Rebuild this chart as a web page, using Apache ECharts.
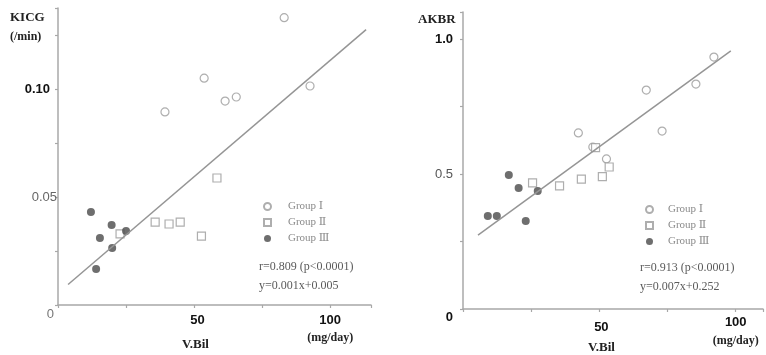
<!DOCTYPE html>
<html>
<head>
<meta charset="utf-8">
<script src="https://cdn.jsdelivr.net/npm/echarts@6/dist/echarts.min.js"></script>
<style>
  html, body { margin: 0; padding: 0; background: #fff; }
  #chart { width: 766px; height: 355px; }
</style>
</head>
<body>
<div id="chart"></div>
<script>
// V.Bil (mg/day) against KICG (/min) — left panel
const kicgGroup1X = [83.1, 53.7, 39.3, 61.4, 65.5, 92.6];
const kicgGroup1Y = [0.133, 0.105, 0.0894, 0.0944, 0.0963, 0.1014];
const kicgGroup2X = [58.4, 35.7, 40.8, 44.9, 52.7, 22.8];
const kicgGroup2Y = [0.0588, 0.0384, 0.0375, 0.0384, 0.0319, 0.0329];
const kicgGroup3X = [12.1, 19.7, 15.4, 25.0, 19.9, 14.0];
const kicgGroup3Y = [0.0431, 0.0370, 0.0310, 0.0343, 0.0264, 0.0167];
const kicgFitX = [3.7, 113.2];
const kicgFitY = [0.0095, 0.1275];

// V.Bil (mg/day) against AKBR — right panel
const akbrGroup1X = [92.0, 85.4, 67.2, 73.0, 42.3, 47.6, 52.6];
const akbrGroup1Y = [0.933, 0.833, 0.811, 0.659, 0.652, 0.600, 0.556];
const akbrGroup2X = [48.6, 53.6, 51.1, 43.4, 35.4, 25.5];
const akbrGroup2Y = [0.598, 0.526, 0.490, 0.481, 0.456, 0.467];
const akbrGroup3X = [16.8, 20.4, 27.4, 9.1, 12.4, 23.0];
const akbrGroup3Y = [0.496, 0.448, 0.437, 0.344, 0.344, 0.326];
const akbrFitX = [5.5, 98.2];
const akbrFitY = [0.274, 0.956];

const groupNames = ['Group Ⅰ', 'Group Ⅱ', 'Group Ⅲ'];
const kicgTickLabels = { '0': '0', '0.05': '0.05', '0.1': '0.10' };
const akbrTickLabels = { '0': '0', '0.5': '0.5', '1': '1.0' };
const xTickLabels = { '50': '50', '100': '100' };
const xUnit = '(mg/day)';
const kicgStats = ['r=0.809 (p<0.0001)', 'y=0.001x+0.005'];
const akbrStats = ['r=0.913 (p<0.0001)', 'y=0.007x+0.252'];

const pairs = (xs, ys) => xs.map((x, i) => [x, ys[i]]);

const AXIS_GREY = '#a8a8a8';
const MARK_GREY = '#9a9a9a';
const FILL_DARK = '#4a4a4a';
const SERIF = '"Liberation Serif", "DejaVu Serif", serif';
const SANS = '"Liberation Sans", Arial, sans-serif';

function lookup(table, v) {
  for (const k in table) {
    if (Math.abs(parseFloat(k) - v) < 1e-9) return table[k];
  }
  return null;
}

// rich-text style helper
function rs(weight, size, family, color, extra) {
  return Object.assign({ fontWeight: weight, fontSize: size, fontFamily: family, color: color }, extra || {});
}

function groupSeries(idx, g1, g2, g3, fit) {
  return [
    { name: groupNames[0], type: 'scatter', xAxisIndex: idx, yAxisIndex: idx,
      symbol: 'circle', symbolSize: 8, data: g1,
      itemStyle: { color: '#fff', borderColor: MARK_GREY, borderWidth: 1.2 } },
    { name: groupNames[1], type: 'scatter', xAxisIndex: idx, yAxisIndex: idx,
      symbol: 'rect', symbolSize: 8, data: g2,
      itemStyle: { color: '#fff', borderColor: MARK_GREY, borderWidth: 1.2 } },
    { name: groupNames[2], type: 'scatter', xAxisIndex: idx, yAxisIndex: idx,
      symbol: 'circle', symbolSize: 8, data: g3,
      itemStyle: { color: FILL_DARK } },
    { name: 'fit', type: 'line', xAxisIndex: idx, yAxisIndex: idx,
      data: fit, symbol: 'none', silent: true,
      lineStyle: { color: '#959595', width: 1.5 } }
  ];
}

const axisLineStyle = { lineStyle: { color: AXIS_GREY, width: 1.5 } };
const axisTickStyle = { show: true, length: 3, lineStyle: { color: AXIS_GREY, width: 1.2 } };

const option = {
  backgroundColor: '#fff',
  animation: false,
  grid: [
    { left: 58, top: 8, width: 313, height: 297 },
    { left: 463, top: 12, width: 301, height: 297 }
  ],
  xAxis: [
    { gridIndex: 0, type: 'value', min: 0, max: 115, interval: 25,
      splitLine: { show: false }, axisLine: axisLineStyle, axisTick: axisTickStyle,
      axisLabel: {
        margin: 7,
        formatter: v => {
          const t = lookup(xTickLabels, v);
          if (!t) return '';
          return v === 100 ? '{n|' + t + '}\n{u|' + xUnit + '}' : '{f|' + t + '}';
        },
        rich: {
          n: rs('bold', 13, SANS, '#111', { lineHeight: 17 }),
          f: rs('bold', 13, SANS, '#111', { lineHeight: 17, padding: [0, 0, 0, 7] }),
          u: rs('bold', 12, SERIF, '#222', { lineHeight: 17 })
        }
      } },
    { gridIndex: 1, type: 'value', min: 0, max: 110, interval: 25,
      splitLine: { show: false }, axisLine: axisLineStyle, axisTick: axisTickStyle,
      axisLabel: {
        margin: 5,
        formatter: v => {
          const t = lookup(xTickLabels, v);
          if (!t) return '';
          return v === 100 ? '{n|' + t + '}\n{u|' + xUnit + '}' : '{f|' + t + '}';
        },
        rich: {
          n: rs('bold', 13, SANS, '#111', { lineHeight: 17 }),
          f: rs('bold', 13, SANS, '#111', { lineHeight: 17, padding: [10, 0, 0, 4] }),
          u: rs('bold', 12, SERIF, '#222', { lineHeight: 20 })
        }
      } }
  ],
  yAxis: [
    { gridIndex: 0, type: 'value', min: 0, max: 0.1375, interval: 0.025,
      splitLine: { show: false }, axisLine: axisLineStyle, axisTick: axisTickStyle,
      axisLabel: {
        margin: 1,
        formatter: v => {
          const t = lookup(kicgTickLabels, v);
          if (!t) return '';
          if (v === 0) return '{z|' + t + '}';
          return (Math.abs(v - 0.1) < 1e-9 ? '{b|' : '{g|') + t + '}';
        },
        rich: {
          b: rs('bold', 13, SANS, '#111', { padding: [0, 7, 0, 0] }),
          g: rs('normal', 13, SANS, '#666'),
          z: rs('normal', 13, SANS, '#777', { padding: [18, 3, 0, 0] })
        }
      } },
    { gridIndex: 1, type: 'value', min: 0, max: 1.1, interval: 0.25,
      splitLine: { show: false }, axisLine: axisLineStyle, axisTick: axisTickStyle,
      axisLabel: {
        margin: 10,
        formatter: v => {
          const t = lookup(akbrTickLabels, v);
          if (!t) return '';
          if (v === 0) return '{z|' + t + '}';
          return (v === 1 ? '{b|' : '{g|') + t + '}';
        },
        rich: {
          b: rs('bold', 13, SANS, '#111'),
          g: rs('normal', 13, SANS, '#555'),
          z: rs('bold', 13, SANS, '#111', { padding: [16, 0, 0, 0] })
        }
      } }
  ],
  legend: [
    { data: groupNames, orient: 'vertical', left: 258, top: 196,
      itemWidth: 7, itemHeight: 7, itemGap: 5, selectedMode: false,
      textStyle: { fontFamily: SERIF, fontSize: 11, color: '#8a8a8a', padding: [0, 0, 0, 12] } },
    { data: groupNames, orient: 'vertical', left: 640, top: 199,
      itemWidth: 7, itemHeight: 7, itemGap: 5, selectedMode: false,
      textStyle: { fontFamily: SERIF, fontSize: 11, color: '#8a8a8a', padding: [0, 0, 0, 10] } }
  ],
  graphic: [
    { type: 'text', left: 10, top: 11, style: { text: 'KICG', font: 'bold 13px ' + SERIF, fill: '#222' } },
    { type: 'text', left: 10, top: 31, style: { text: '(/min)', font: 'bold 12px ' + SERIF, fill: '#222' } },
    { type: 'text', left: 418, top: 13, style: { text: 'AKBR', font: 'bold 13px ' + SERIF, fill: '#222' } },
    { type: 'text', left: 182, top: 338, style: { text: 'V.Bil', font: 'bold 13px ' + SERIF, fill: '#222' } },
    { type: 'text', left: 588, top: 341, style: { text: 'V.Bil', font: 'bold 13px ' + SERIF, fill: '#222' } },
    { type: 'text', left: 259, top: 261, style: { text: kicgStats[0], font: '12px ' + SERIF, fill: '#5a5a5a' } },
    { type: 'text', left: 259, top: 280, style: { text: kicgStats[1], font: '12px ' + SERIF, fill: '#5a5a5a' } },
    { type: 'text', left: 640, top: 262, style: { text: akbrStats[0], font: '12px ' + SERIF, fill: '#5a5a5a' } },
    { type: 'text', left: 640, top: 281, style: { text: akbrStats[1], font: '12px ' + SERIF, fill: '#5a5a5a' } }
  ],
  series: [
    ...groupSeries(0, pairs(kicgGroup1X, kicgGroup1Y), pairs(kicgGroup2X, kicgGroup2Y),
      pairs(kicgGroup3X, kicgGroup3Y), pairs(kicgFitX, kicgFitY)),
    ...groupSeries(1, pairs(akbrGroup1X, akbrGroup1Y), pairs(akbrGroup2X, akbrGroup2Y),
      pairs(akbrGroup3X, akbrGroup3Y), pairs(akbrFitX, akbrFitY))
  ]
};

const chart = echarts.init(document.getElementById('chart'), null, { renderer: 'canvas' });
chart.setOption(option);
</script>
</body>
</html>
